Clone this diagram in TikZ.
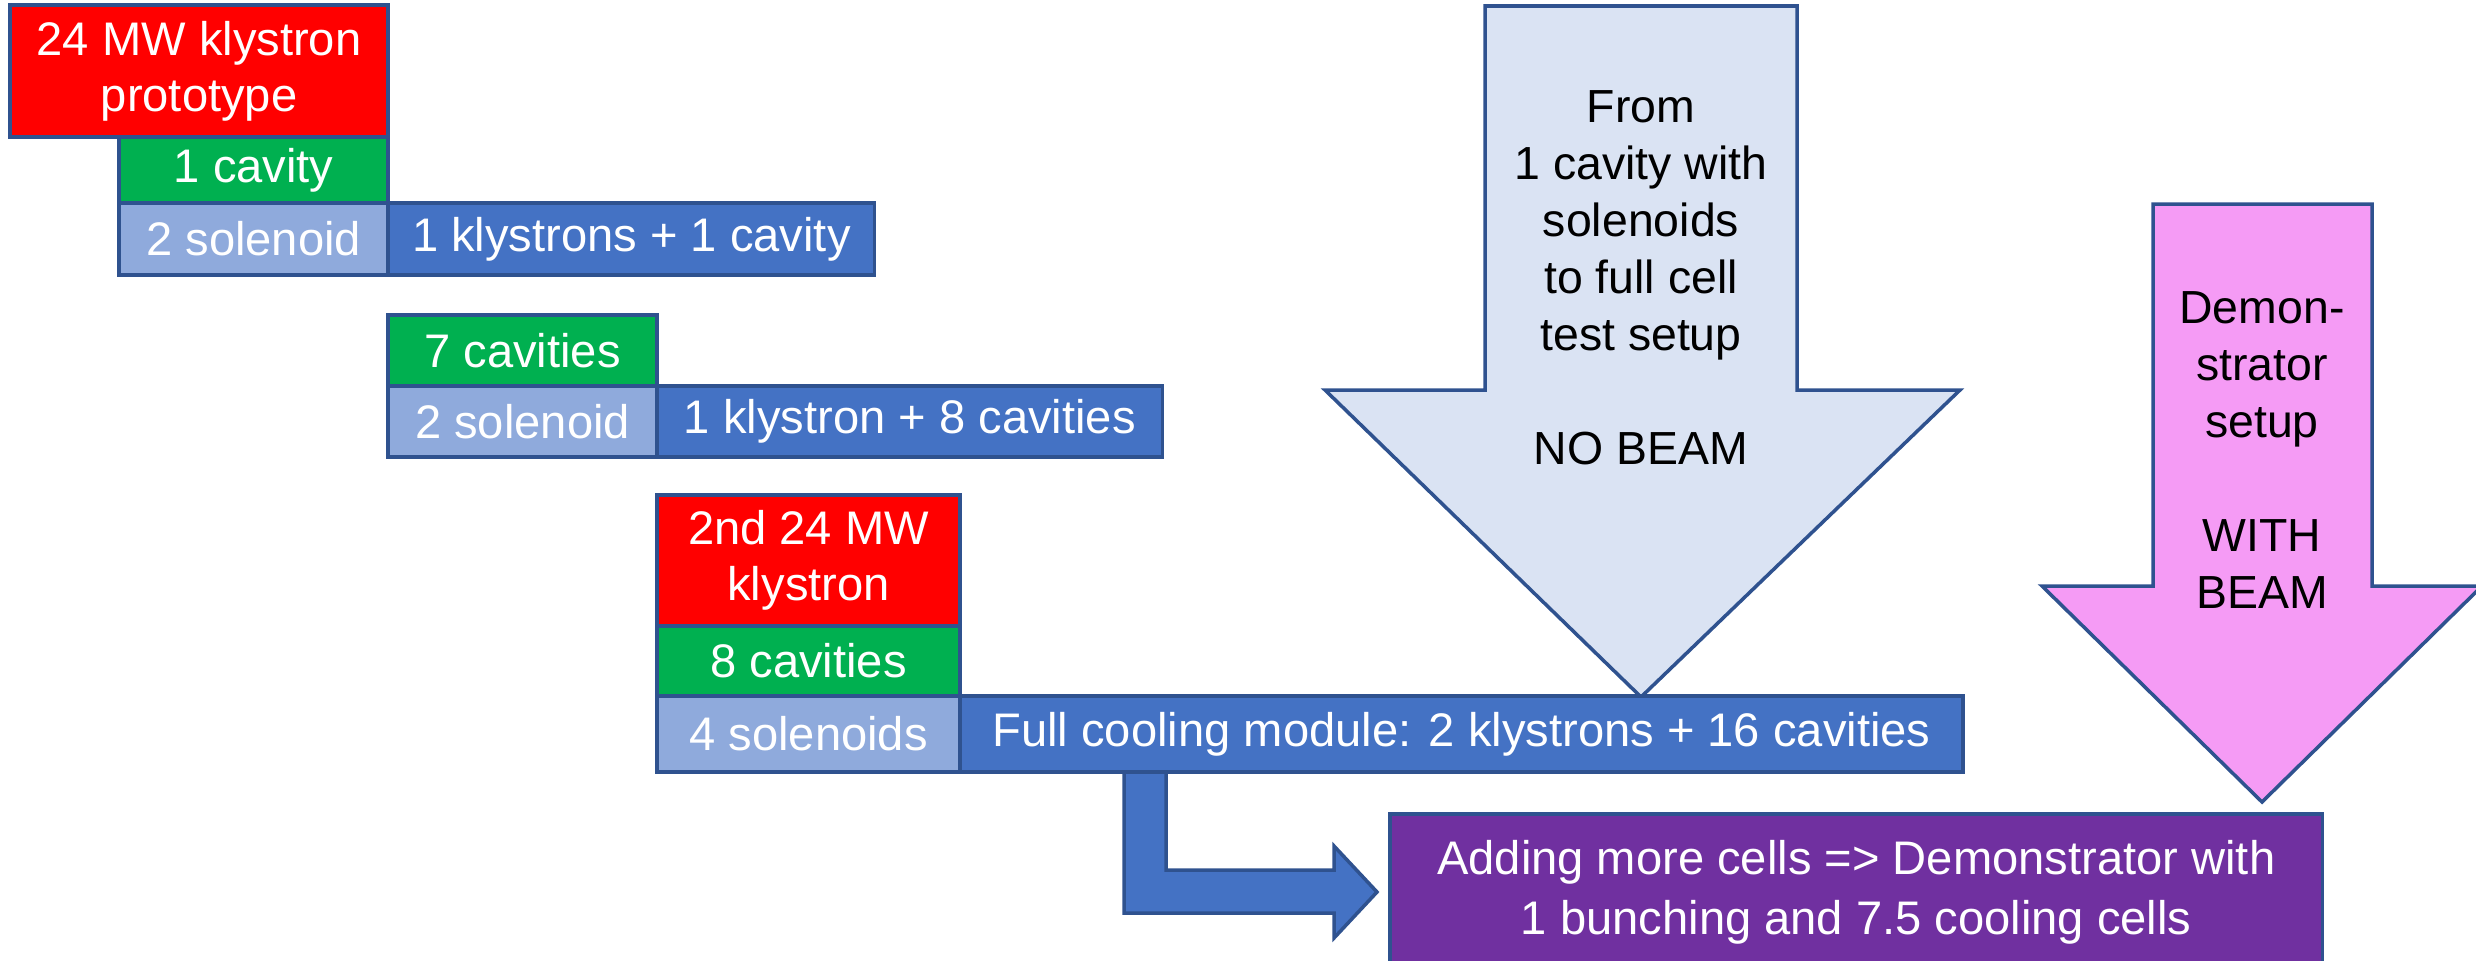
\documentclass[tikz,border=0pt]{standalone}
\usepackage{fontspec}
\setmainfont{Liberation Sans}
\usetikzlibrary{positioning,calc}
\definecolor{edgeblue}{HTML}{2F528F}
\definecolor{klyred}{HTML}{FF0000}
\definecolor{cavgreen}{HTML}{00B050}
\definecolor{solblue}{HTML}{8FAADC}
\definecolor{modblue}{HTML}{4472C4}
\definecolor{nobeamfill}{HTML}{DAE3F3}
\definecolor{beamfill}{HTML}{F59BF5}
\definecolor{demopurple}{HTML}{7030A0}

\begin{document}
\begin{tikzpicture}[
    x=0.01cm, y=-0.01cm,
    box/.style={draw=edgeblue, line width=1pt, text=white, outer sep=0pt, inner sep=1pt,
                align=center, font=\fontsize{13.4pt}{15.9pt}\selectfont},
    klys/.style={box, fill=klyred},
    cav/.style={box, fill=cavgreen},
    sol/.style={box, fill=solblue},
    modl/.style={box, fill=modblue},
    demo/.style={box, fill=demopurple, font=\fontsize{13.4pt}{17pt}\selectfont},
    blockarrow/.style={draw=edgeblue, line width=1pt, line join=miter},
    atxt/.style={align=center, text=black, font=\fontsize{13.2pt}{16.2pt}\selectfont},
]
\clip (0,0) rectangle (2476,960);

\node[klys, minimum width=3.78cm, minimum height=1.32cm, anchor=north west] (kly1) at (10,5) {24 MW klystron\\prototype};
\node[cav, minimum width=2.69cm, minimum height=0.66cm, anchor=north east] (cav1) at (kly1.south east) {1 cavity};
\node[sol, minimum width=2.69cm, minimum height=0.72cm, anchor=north east] (sol1) at (cav1.south east) {2 solenoid};
\node[modl, minimum width=4.86cm, minimum height=0.72cm, anchor=west] (mod1) at (sol1.east) {1 klystrons + 1 cavity};

\node[cav, minimum width=2.69cm, minimum height=0.71cm, anchor=north west] (cav2) at (388,315) {7 cavities};
\node[sol, minimum width=2.69cm, minimum height=0.71cm, anchor=north] (sol2) at (cav2.south) {2 solenoid};
\node[modl, minimum width=5.05cm, minimum height=0.71cm, anchor=west] (mod2) at (sol2.east) {1 klystron + 8 cavities};

\draw[blockarrow, fill=nobeamfill] (1485,6) -- (1797,6) -- (1797,390) -- (1960,390)
  -- (1641,697) -- (1325,390) -- (1485,390) -- cycle;
\node[atxt] (nobeam) at (1641,278) {From\\1 cavity with\\solenoids\\to full cell\\test setup\\[16.2pt]NO BEAM};

\draw[blockarrow, fill=beamfill] (2153,204) -- (2372,204) -- (2372,586) -- (2482,586)
  -- (2262,802) -- (2042,586) -- (2153,586) -- cycle;
\node[atxt] (beam) at (2262,450) {Demon-\\strator\\setup\\[16.2pt]WITH\\BEAM};

\draw[blockarrow, fill=modblue] (1124,770) -- (1124,913) -- (1334,913) -- (1334,938)
  -- (1377,892) -- (1334,846) -- (1334,870) -- (1166,870) -- (1166,770) -- cycle;

\node[klys, minimum width=3.03cm, minimum height=1.31cm, anchor=north west] (kly2) at (657,495) {2nd 24 MW\\klystron};
\node[cav, minimum width=3.03cm, minimum height=0.70cm, anchor=north] (cav3) at (kly2.south) {8 cavities};
\node[sol, minimum width=3.03cm, minimum height=0.76cm, anchor=north] (sol3) at (cav3.south) {4 solenoids};
\node[modl, minimum width=10.02cm, minimum height=0.76cm, anchor=west] (mod3) at (sol3.east) {Full cooling module: 2 klystrons + 16 cavities};

\node[demo, minimum width=9.32cm, minimum height=1.56cm, anchor=north west] (demo) at (1390,814) {Adding more cells => Demonstrator with\\1 bunching and 7.5 cooling cells};
\end{tikzpicture}
\end{document}
